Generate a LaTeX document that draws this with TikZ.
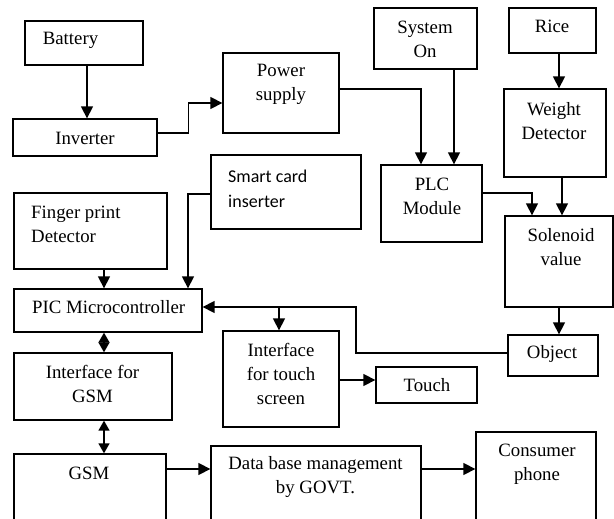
\documentclass[tikz,border=0pt]{standalone}
\usepackage{fontspec}
\setmainfont{Liberation Serif}
\newfontfamily\calib{Carlito}
\usetikzlibrary{arrows.meta}
\begin{document}
\begin{tikzpicture}[x=1pt,y=-1pt,
  box/.style={draw,line width=1.3pt,inner sep=0pt},
  txt/.style={inner sep=0pt,align=center,font=\fontsize{18.8}{24}\selectfont},
  stxt/.style={inner sep=0pt,align=left,font=\calib\fontsize{18}{25}\selectfont},
  conn/.style={line width=1.4pt},
  arr/.style={conn,-{Triangle[length=12pt,width=12pt]}},
  darr/.style={conn,{Triangle[length=10pt,width=11pt]}-{Triangle[length=10pt,width=11pt]}}
]
\useasboundingbox (0,0) rectangle (614,519);
\clip (0,0) rectangle (614,519);
% boxes
\node[box,minimum width=118pt,minimum height=44pt] (bat) at (84,43) {};
\node[box,minimum width=144pt,minimum height=37pt] (inv) at (85,137.5) {};
\node[box,minimum width=116pt,minimum height=80pt] (pow) at (281,93) {};
\node[box,minimum width=103pt,minimum height=61pt] (sys) at (425.5,38.5) {};
\node[box,minimum width=87pt,minimum height=45pt] (rice) at (552.5,30.5) {};
\node[box,minimum width=102pt,minimum height=88pt] (wgt) at (555,133) {};
\node[box,minimum width=150pt,minimum height=74pt] (smart) at (286,192) {};
\node[box,minimum width=101pt,minimum height=77pt] (plc) at (431.5,203.5) {};
\node[box,minimum width=153pt,minimum height=76pt] (fing) at (90.5,231) {};
\node[box,minimum width=108pt,minimum height=91pt] (sol) at (559,261.5) {};
\node[box,minimum width=188pt,minimum height=43pt] (pic) at (108,310.5) {};
\node[box,minimum width=90pt,minimum height=41pt] (obj) at (553,355.5) {};
\node[box,minimum width=158pt,minimum height=67pt] (igsm) at (93,386.5) {};
\node[box,minimum width=116pt,minimum height=96pt] (itouch) at (281,379) {};
\node[box,minimum width=101pt,minimum height=36pt] (touch) at (426.5,385) {};
\node[box,minimum width=152pt,minimum height=76pt] (gsm) at (90,492) {};
\node[box,minimum width=210pt,minimum height=84pt] (db) at (316,488) {};
\node[box,minimum width=120pt,minimum height=98pt] (cons) at (536,481) {};
% texts
\node[txt] (tbat) at (70.5,40) {Battery};
\node[txt] (tinv) at (85,138) {Inverter};
\node[txt] (tpow) at (281,84) {Power\\supply};
\node[txt] (tsys) at (425,39.5) {System\\On};
\node[txt] (trice) at (552,26) {Rice};
\node[txt] (twgt) at (554,121.5) {Weight\\Detector};
\node[stxt,anchor=west] (tsmart) at (228,188.5) {Smart card\\inserter};
\node[txt] (tplc) at (432,196.5) {PLC\\Module};
\node[txt,align=left,anchor=west] (tfing) at (31,224) {Finger print\\Detector};
\node[txt] (tsol) at (561,247) {Solenoid\\value};
\node[txt,anchor=west] (tpic) at (32,307) {PIC Microcontroller};
\node[txt] (tobj) at (552,354) {Object};
\node[txt] (tigsm) at (92.5,384) {Interface for\\GSM};
\node[txt] (titouch) at (281,374) {Interface\\for touch\\screen};
\node[txt] (ttouch) at (427,385) {Touch};
\node[txt] (tgsm) at (89,473) {GSM};
\node[txt] (tdb) at (315.5,477) {Data base management\\by GOVT.};
\node[txt] (tcons) at (537,464) {Consumer\\phone};
% connectors
\draw[arr] ([xshift=3pt]bat.south) -- ([xshift=3pt]bat.south |- inv.north);
\draw[arr] ([yshift=4.5pt]inv.east) -| ([xshift=-34pt,yshift=-10pt]pow.west) -- ([yshift=-10pt]pow.west);
\draw[arr] ([yshift=4pt]pow.east) -| ([xshift=-10.5pt]plc.north);
\draw[arr] ([xshift=28.5pt]sys.south) -- ([xshift=22.5pt]plc.north);
\draw[arr] ([xshift=4pt]wgt.north |- rice.south) -- ([xshift=4pt]wgt.north);
\draw[arr] ([yshift=10.5pt]plc.east) -| ([xshift=-27pt]sol.north);
\draw[arr] ([xshift=7pt]wgt.south) -- ([xshift=7pt]wgt.south |- sol.north);
\draw[arr] (sol.south) -- (sol.south |- obj.north);
\coordinate (bend) at (356,307);
\coordinate (br) at (279,307);
\draw[arr] ([yshift=2.5pt]obj.west) -| (bend) -- ([yshift=3.5pt]pic.east);
\draw[arr] (br) -- (br |- itouch.north);
\draw[arr] ([yshift=-2pt]smart.west) -| ([xshift=80pt]pic.north);
\draw[arr] ([xshift=13.5pt]fing.south) -- ([xshift=13.5pt]fing.south |- pic.north);
\draw[darr] ([xshift=-4pt]pic.south) -- ([xshift=-4pt]pic.south |- igsm.north);
\draw[darr] ([xshift=11pt]igsm.south) -- ([xshift=11pt]igsm.south |- gsm.north);
\draw[arr] ([yshift=-1pt]itouch.east) -- ([yshift=-1pt]itouch.east -| touch.west);
\draw[arr] ([yshift=23pt]gsm.east) -- ([yshift=23pt]gsm.east -| db.west);
\draw[arr] ([yshift=19pt]db.east) -- ([yshift=19pt]db.east -| cons.west);
\end{tikzpicture}
\end{document}
